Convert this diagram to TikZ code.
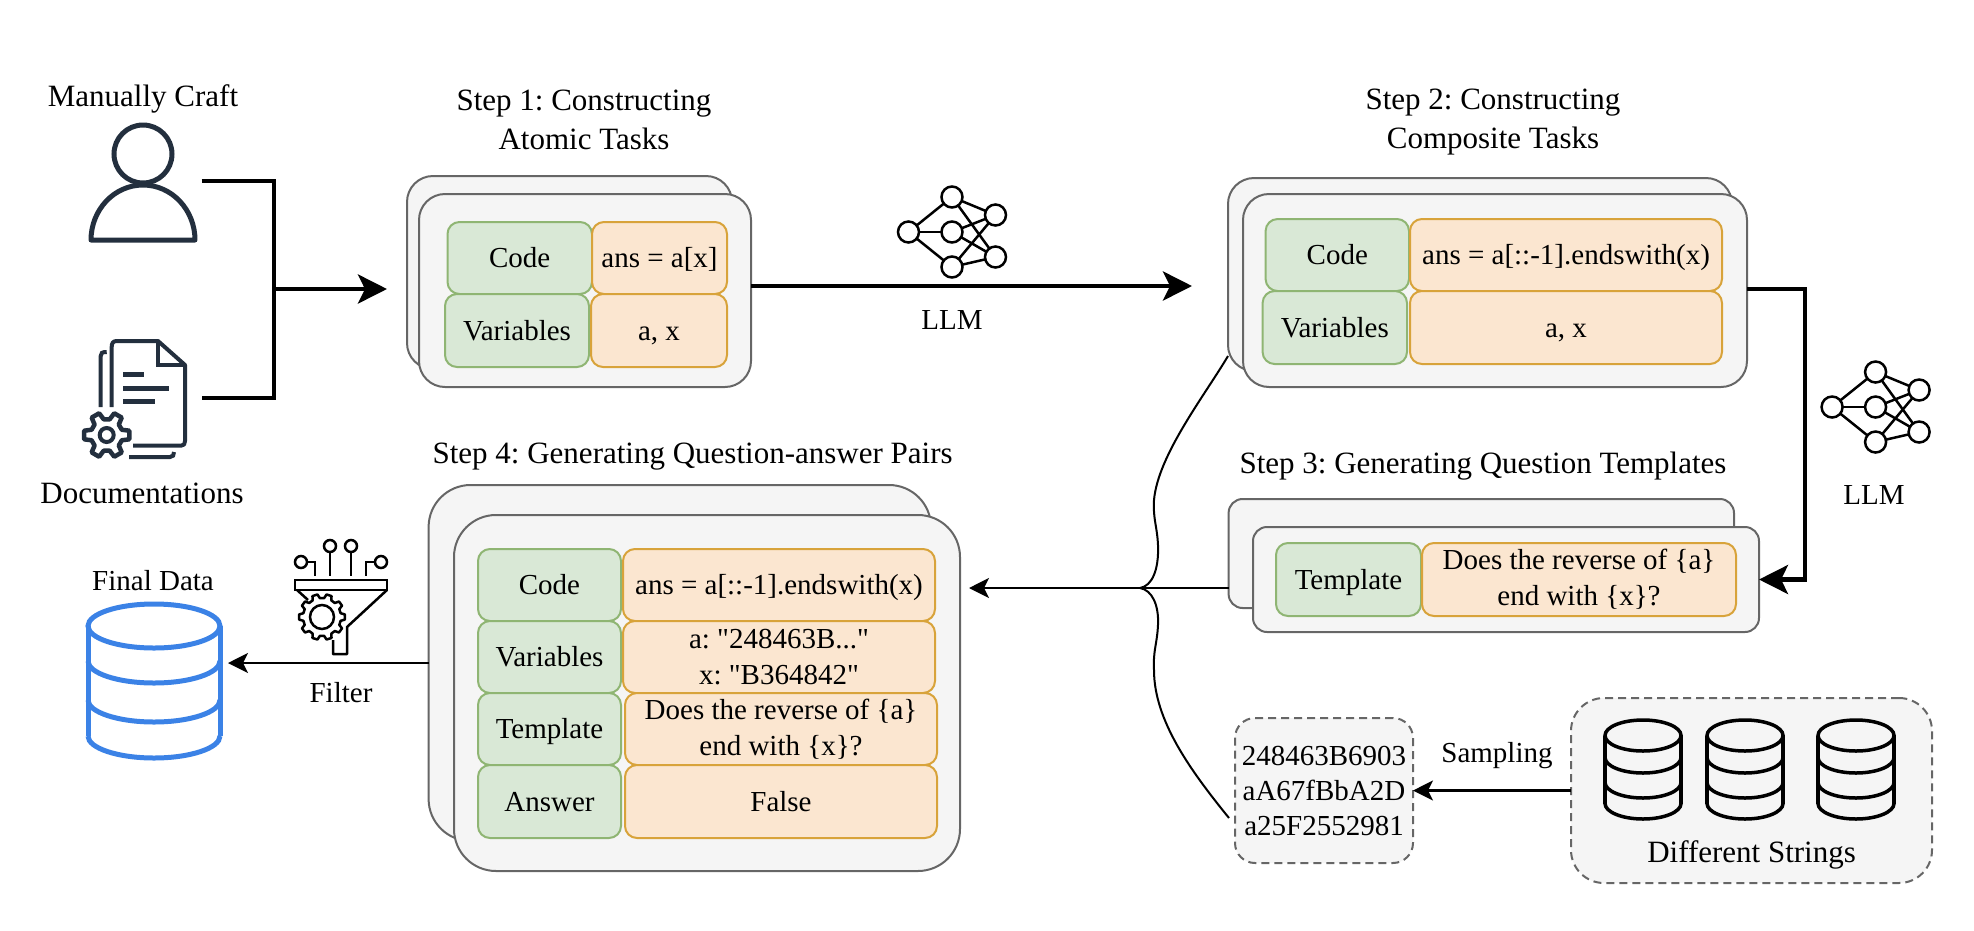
\documentclass[tikz,border=0pt]{standalone}
\usepackage{fontspec}
\setmainfont{Liberation Serif}
\newfontfamily\rawfont{Liberation Serif}[Ligatures=ResetAll]
\usetikzlibrary{arrows.meta}
\definecolor{cardfill}{HTML}{F5F5F5}
\definecolor{cardline}{HTML}{666666}
\definecolor{keyfill}{HTML}{D9E8D6}
\definecolor{keyline}{HTML}{8FB573}
\definecolor{valfill}{HTML}{FBE6D0}
\definecolor{valline}{HTML}{D8A33A}
\definecolor{icondark}{HTML}{232F3E}
\definecolor{dbblue}{HTML}{3B82E6}
\tikzset{
  bigtext/.style={font=\fontsize{31}{39}\selectfont, align=center, inner sep=0pt},
  smalltext/.style={font=\fontsize{29}{36}\selectfont, align=center, inner sep=0pt},
  oneline/.style={text height=19pt, text depth=0pt},
  card/.style={draw=cardline, fill=cardfill, line width=2pt, rounded corners=26pt, inner sep=0pt, outer sep=0pt},
  keycell/.style={smalltext, oneline, draw=keyline, fill=keyfill, line width=2pt, rounded corners=12pt, outer sep=0pt},
  valcell/.style={smalltext, draw=valline, fill=valfill, line width=2pt, rounded corners=12pt, outer sep=0pt},
  dashcard/.style={card, dash pattern=on 8pt off 5pt},
  boldflow/.style={draw=black, line width=4.5pt, -{Stealth[length=29pt,width=29pt,inset=7pt]}},
  boldline/.style={draw=black, line width=4.5pt},
  thinflow/.style={draw=black, line width=2.5pt, -{Stealth[length=20pt,width=20pt,inset=5pt]}},
  thinline/.style={draw=black, line width=2pt},
  netdot/.style={circle, draw=black, line width=2.5pt, fill=white, minimum size=21pt, inner sep=0pt, outer sep=0pt},
  llmnet/.pic={
    \node[netdot] (nl) at (-43.5,0) {};
    \node[netdot] (nt) at (0,-35) {};
    \node[netdot] (nc) at (0,0) {};
    \node[netdot] (nb) at (0,35) {};
    \node[netdot] (nu) at (43.5,-17) {};
    \node[netdot] (nd) at (43.5,25) {};
    \foreach \a/\b in {nl/nt,nl/nc,nl/nb,nt/nu,nt/nd,nc/nu,nc/nd,nb/nu,nb/nd}
      \draw[black, line width=2.5pt] (\a) -- (\b);
  },
}
% gear outline: centre, outer radius, inner radius, teeth
\newcommand{\gearicon}[5][]{%
  \pgfmathsetmacro{\gp}{360/#5}
  \draw[#1] ([shift={#2}]-0.18*\gp:#3)
    \foreach \k in {1,...,#5} {
      -- ([shift={#2}]\k*\gp-\gp+0.18*\gp:#3)
      -- ([shift={#2}]\k*\gp-\gp+0.32*\gp:#4)
      -- ([shift={#2}]\k*\gp-0.32*\gp:#4)
      -- ([shift={#2}]\k*\gp-0.18*\gp:#3)
    } -- cycle;
}
% database stack: x, top ellipse y, x radius, y radius, bottoms of the three bands
\newcommand{\dbstack}[8][]{%
  \draw[#1] (#2,#3) circle[x radius=#4, y radius=#5];
  \draw[#1] (#2-#4,#3) -- (#2-#4,#8-#5);
  \draw[#1] (#2+#4,#3) -- (#2+#4,#8-#5);
  \foreach \by in {#6,#7,#8} {
    \draw[#1] (#2-#4,\by-#5) .. controls (#2-#4,\by-0.45*#5) and (#2-0.55*#4,\by) .. (#2,\by)
      .. controls (#2+0.55*#4,\by) and (#2+#4,\by-0.45*#5) .. (#2+#4,\by-#5);
  }
}
\newcommand{\sq}{{\rawfont"}}
\begin{document}
\frenchspacing
\begin{tikzpicture}[x=1pt, y=-1pt]
\useasboundingbox (0,0) rectangle (1974,930);
% Sources
\node[bigtext] (craftlabel) at (143,99) {Manually Craft};
\node[bigtext] (doclabel) at (142,493) {Documentations};
\draw[icondark, line width=5pt] (143,154) circle (29);
\draw[icondark, line width=5pt, line join=round] (91,240) -- (195,240)
  .. controls (195,210) and (172,185) .. (143,185)
  .. controls (114,185) and (91,210) .. (91,240) -- cycle;
\draw[icondark, line width=4pt, line join=round] (111.7,407) -- (111.7,347)
  .. controls (111.7,343) and (113,341) .. (117,341) -- (158,341) -- (185,365) -- (185,441)
  .. controls (185,444) and (184,445.7) .. (181,445.7) -- (133,445.7);
\draw[icondark, line width=4pt] (158,341) -- (158,365) -- (185,365);
\draw[icondark, line width=4pt] (100.7,407) -- (100.7,356) .. controls (100.7,353) and (102,352) .. (106.7,352);
\draw[icondark, line width=4pt] (129,457) -- (170,457) .. controls (173,457) and (174,455) .. (174,452);
\draw[icondark, line width=5pt] (123,374) -- (144,374);
\draw[icondark, line width=5pt] (123,388) -- (169,388);
\draw[icondark, line width=5pt] (123,401) -- (155,401);
\gearicon[icondark, line width=4.5pt, line join=round]{(106.7,435)}{23}{16}{6}
\draw[icondark, line width=4pt] (106.7,435) circle (7);
% Step 1
\node[bigtext] (stepone) at (584,120) {Step 1: Constructing\\Atomic Tasks};
\node[card, minimum width=325pt, minimum height=193pt] (atomback) at (569.5,272.5) {};
\node[card, minimum width=332pt, minimum height=193pt] (atomfront) at (585,290.5) {};
\node[keycell, minimum width=144.5pt, minimum height=72pt] (atomcode) at (519.75,258) {Code};
\node[valcell, oneline, minimum width=135pt, minimum height=72pt] (atomans) at (659.5,258) {ans = a[x]};
\node[keycell, minimum width=144pt, minimum height=73pt] (atomvar) at (517,330.5) {Variables};
\node[valcell, oneline, minimum width=136pt, minimum height=73pt] (atomval) at (659,330.5) {a, x};
% Step 2
\node[bigtext] (steptwo) at (1493,122.5) {Step 2: Constructing\\Composite Tasks};
\node[card, minimum width=504pt, minimum height=193pt] (compback) at (1480,274.5) {};
\node[card, minimum width=504pt, minimum height=193pt] (compfront) at (1495,290.5) {};
\node[keycell, minimum width=143.4pt, minimum height=72pt] (compcode) at (1337.3,255) {Code};
\node[valcell, oneline, minimum width=312pt, minimum height=72pt] (compans) at (1566,255) {ans = a[::-1].endswith(x)};
\node[keycell, minimum width=144.4pt, minimum height=73pt] (compvar) at (1334.8,327.5) {Variables};
\node[valcell, oneline, minimum width=312pt, minimum height=73pt] (compval) at (1566,327.5) {a, x};
% Step 3
\node[bigtext] (stepthree) at (1483,466.5) {Step 3: Generating Question Templates};
\node[card, rounded corners=14pt, minimum width=505.4pt, minimum height=109pt] (templback) at (1481.3,553.5) {};
\node[card, rounded corners=14pt, minimum width=506pt, minimum height=105pt] (templfront) at (1506,579.5) {};
\node[keycell, minimum width=145pt, minimum height=73pt] (templkey) at (1348.5,579.5) {Template};
\node[valcell, minimum width=314pt, minimum height=73pt] (templval) at (1579,579.5) {Does the reverse of \{a\}\\end with \{x\}?};
% Step 4
\node[bigtext] (stepfour) at (692.6,456.5) {Step 4: Generating Question-answer Pairs};
\node[card, rounded corners=42pt, minimum width=502.4pt, minimum height=356pt] (pairback) at (679.8,663) {};
\node[card, rounded corners=42pt, minimum width=506pt, minimum height=356pt] (pairfront) at (707,693) {};
\node[keycell, minimum width=143pt, minimum height=72pt] (paircode) at (549.5,585) {Code};
\node[valcell, oneline, minimum width=312pt, minimum height=72pt] (pairans) at (779,585) {ans = a[::-1].endswith(x)};
\node[keycell, minimum width=143pt, minimum height=72pt] (pairvar) at (549.5,657) {Variables};
\node[valcell, minimum width=312pt, minimum height=72pt] (pairval) at (779,657) {a: \sq248463B...\sq\\x: \sq B364842\sq};
\node[keycell, minimum width=143pt, minimum height=72pt] (pairtempl) at (549.5,729) {Template};
\node[valcell, minimum width=312pt, minimum height=72pt] (pairq) at (781,729) {Does the reverse of \{a\}\\end with \{x\}?};
\node[keycell, minimum width=143pt, minimum height=73pt] (pairkey) at (549.5,801.5) {Answer};
\node[valcell, oneline, minimum width=312pt, minimum height=73pt] (pairres) at (781,801.5) {False};
% Strings
\node[dashcard, smalltext, font=\fontsize{29}{35}\selectfont, rounded corners=20pt, minimum width=178pt, minimum height=145pt] (sampled) at (1324,790.5) {248463B6903\\aA67fBbA2D\\a25F2552981};
\node[dashcard, rounded corners=33pt, minimum width=361pt, minimum height=185pt] (pool) at (1751.5,790.5) {};
\foreach \cx in {1643,1745,1856} {
  \dbstack[black, line width=3.5pt]{\cx}{735.5}{38}{15.5}{773}{798}{819}
}
\node[bigtext] (poollabel) at (1751.6,854.5) {Different Strings};
\node[smalltext] (samplelabel) at (1497,756) {Sampling};
\draw[thinflow] (pool.west) -- (sampled.east);
% Final data
\node[smalltext] (finallabel) at (153,581) {Final Data};
\dbstack[dbblue, line width=5pt]{154}{626}{66}{22}{683}{722}{758}
\node[smalltext] (filterlabel) at (341,693) {Filter};
% Filter icon
\foreach \cx in {330,351} {
  \draw[black, line width=2.5pt] (\cx,546) circle (6);
  \draw[black, line width=2.5pt] (\cx,552) -- (\cx,576);
}
\draw[black, line width=2.5pt] (301,562) circle (6);
\draw[black, line width=2.5pt] (307,562) -- (315,562) -- (315,576);
\draw[black, line width=2.5pt] (381,562) circle (6);
\draw[black, line width=2.5pt] (375,562) -- (366,562) -- (366,576);
\draw[black, line width=2.5pt] (295,580) rectangle (387,590);
\draw[black, line width=2.5pt, line join=round] (297,590) -- (308,600);
\draw[black, line width=2.5pt, line join=round] (387,590) -- (347,627) -- (347,654) -- (333,654) -- (333,640);
\gearicon[black, fill=white, line width=2.5pt, line join=round]{(322,617)}{23}{19}{10}
\draw[black, line width=2.5pt] (322,617) circle (12);
% LLM icons
\pic at (952,232) {llmnet};
\pic at (1875.6,407) {llmnet};
\node[smalltext] (llmone) at (952,320) {LLM};
\node[smalltext] (llmtwo) at (1874,495) {LLM};
% Connectors
\coordinate (craftout) at (201.5,181);
\coordinate (docout) at (201.5,398);
\coordinate (joint) at (274,289);
\coordinate (atomin) at (387,289);
\coordinate (compin) at (1192,286);
\coordinate (turn) at (1805,400);
\coordinate (hub) at (1140,588);
\coordinate (pairin) at (969,588);
\coordinate (finalin) at (228,663);
\draw[boldline] (craftout) -| (joint) |- (docout);
\draw[boldflow] (joint) -- (atomin);
\draw[boldflow] (atomfront.east |- compin) -- (compin);
\draw[boldflow] ([yshift=1.5pt]compfront.east) -| (turn) |- (templfront.east);
\draw[thinflow] (hub) -- (pairin);
\draw[thinline] (templback.west |- hub) -- (hub);
\draw[thinline] (hub) .. controls (1152,586) and (1159,570) .. (1158,545)
  .. controls (1157,525) and (1153,520) .. (1154,500)
  .. controls (1158,455) and (1205,395) .. ([yshift=-81.5pt]compback.west);
\draw[thinline] (hub) .. controls (1152,590) and (1159,605) .. (1158,625)
  .. controls (1157,645) and (1153,650) .. (1154,670)
  .. controls (1154,720) and (1190,770) .. ([xshift=-6pt,yshift=-27.5pt]sampled.west);
\draw[thinflow] (pairback.west) -- (finalin);
\end{tikzpicture}
\end{document}
